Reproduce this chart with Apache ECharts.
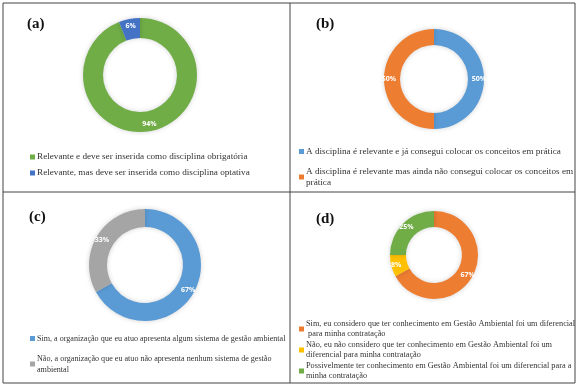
<!DOCTYPE html>
<html>
<head>
<meta charset="utf-8">
<script src="https://cdn.jsdelivr.net/npm/echarts@6/dist/echarts.min.js"></script>
<style>
html,body{margin:0;padding:0;background:#fff;}
#main{width:581px;height:387px;}
</style>
</head>
<body>
<div id="main"></div>
<script>
// ---- data ----
const catsA = ['Relevante e deve ser inserida como disciplina obrigatória', 'Relevante, mas deve ser inserida como disciplina optativa'];
const valsA = [94, 6];
const catsB = ['A disciplina é relevante e já consegui colocar os conceitos em prática', 'A disciplina é relevante mas ainda não consegui colocar os conceitos em prática'];
const valsB = [50, 50];
const catsC = ['Sim, a organização que eu atuo apresenta algum sistema de gestão ambiental', 'Não, a organização que eu atuo não apresenta nenhum sistema de gestão ambiental'];
const valsC = [67, 33];
const catsD = ['Sim, eu considero que ter conhecimento em Gestão Ambiental foi um diferencial para minha contratação', 'Não, eu não considero que ter conhecimento em Gestão Ambiental foi um diferencial para minha contratação', 'Possivelmente ter conhecimento em Gestão Ambiental foi um diferencial para a minha contratação'];
const valsD = [67, 8, 25];
const panelLabels = ['(a)', '(b)', '(c)', '(d)'];

// ---- styles ----
const colA = ['#70AD47', '#4472C4'];
const colB = ['#5B9BD5', '#ED7D31'];
const colC = ['#5B9BD5', '#A5A5A5'];
const colD = ['#ED7D31', '#FFC000', '#70AD47'];

const serif = '"Liberation Serif", "Times New Roman", serif';

function mk(cats, vals, cols) {
  return cats.map((n, i) => ({ name: n, value: vals[i], itemStyle: { color: cols[i] } }));
}
function pie(cats, vals, cols, center, radius) {
  return {
    type: 'pie', center: center, radius: radius, startAngle: 90, clockwise: true,
    data: mk(cats, vals, cols),
    label: { show: true, position: 'inside', formatter: '{c}%', color: '#fff', fontSize: 7, fontWeight: 'bold', fontFamily: '"Open Sans", sans-serif' },
    labelLine: { show: false },
    itemStyle: { borderWidth: 0, shadowBlur: 5, shadowColor: 'rgba(0,0,0,0.18)' },
    emphasis: { disabled: true },
    silent: true
  };
}
function legend(cats, left, top, width, gap, fs, lh) {
  return {
    data: cats, orient: 'vertical', left: left, top: top, icon: 'rect',
    itemWidth: 5, itemHeight: 5, itemGap: gap, padding: 0, selectedMode: false,
    textStyle: { fontFamily: serif, fontSize: fs, color: '#333', lineHeight: lh, width: width, overflow: 'break', padding: [0, 0, 0, -3] }
  };
}

const chart = echarts.init(document.getElementById('main'), null, { renderer: 'canvas' });
const titlePos = [[27, 17], [316, 17], [29, 210], [316, 212]];
chart.setOption({
  animation: false,
  title: panelLabels.map((t, i) => ({
    text: t, left: titlePos[i][0], top: titlePos[i][1], padding: 0,
    textStyle: { fontFamily: serif, fontSize: 15, fontWeight: 'bold', color: '#111' }
  })),
  legend: [
    legend(catsA, 30, 152, 262, 6, 9.2, 10),
    legend(catsB, 299, 146, 285, 9, 9.2, 11),
    legend(catsC, 30, 333, 280, 9, 8.1, 11),
    legend(catsD, 299, 319, 289, 1, 8.3, 10)
  ],
  graphic: [
    { type: 'rect', shape: { x: 3, y: 3, width: 572, height: 380 }, style: { fill: 'none', stroke: '#444', lineWidth: 1 } },
    { type: 'line', shape: { x1: 290, y1: 3, x2: 290, y2: 383 }, style: { stroke: '#444', lineWidth: 1 } },
    { type: 'line', shape: { x1: 3, y1: 192, x2: 575, y2: 192 }, style: { stroke: '#444', lineWidth: 1 } }
  ],
  series: [
    pie(catsA, valsA, colA, [140, 75], [37, 57]),
    pie(catsB, valsB, colB, [434, 79], [34, 50]),
    pie(catsC, valsC, colC, [145, 265], [38, 56]),
    pie(catsD, valsD, colD, [434, 255], [28, 44])
  ]
});
</script>
</body>
</html>
